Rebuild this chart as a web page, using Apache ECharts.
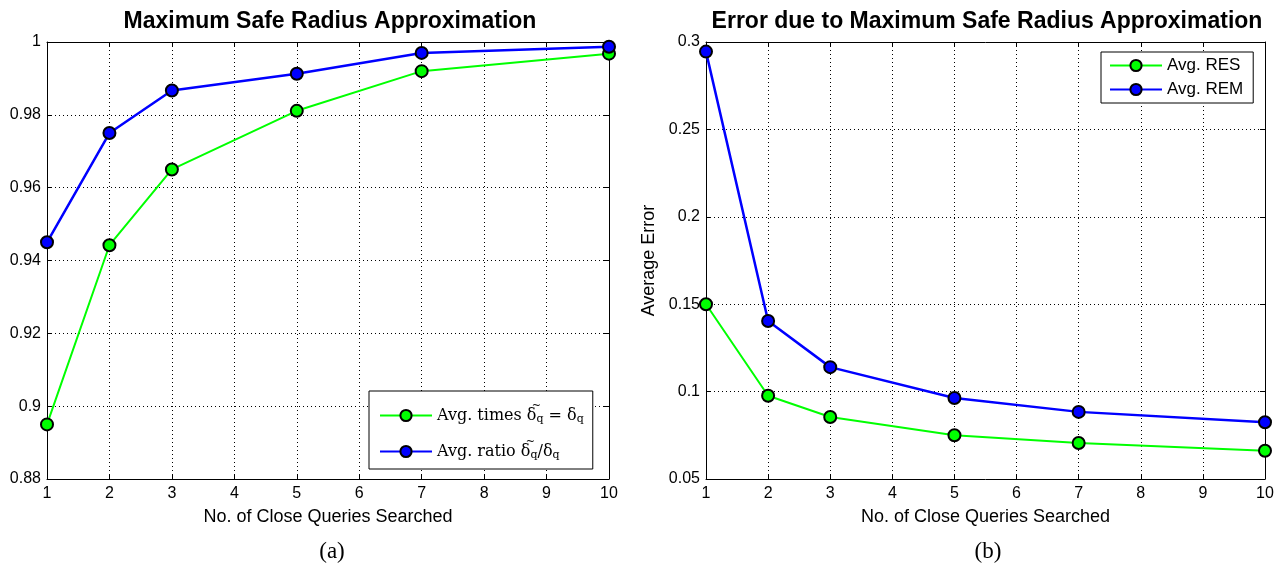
<!DOCTYPE html>
<html>
<head>
<meta charset="utf-8">
<script src="https://cdn.jsdelivr.net/npm/echarts@6/dist/echarts.min.js"></script>
<style>
html,body{margin:0;padding:0;background:#fff;}
#c{width:1281px;height:565px;}
</style>
</head>
<body>
<div id="c"></div>
<script>
// ---- data ----
const queries = [1, 2, 3, 5, 7, 10];
const avgTimes = [0.895, 0.9442, 0.965, 0.9811, 0.992, 0.9968];
const avgRatio = [0.945, 0.975, 0.9867, 0.9913, 0.997, 0.9987];
const avgRES = [0.150, 0.0976, 0.0855, 0.0750, 0.0706, 0.0662];
const avgREM = [0.2945, 0.1404, 0.1140, 0.0963, 0.0884, 0.0825];
const titleA = 'Maximum Safe Radius Approximation';
const titleB = 'Error due to Maximum Safe Radius Approximation';
const xName = 'No. of Close Queries Searched';
const yNameB = 'Average Error';
const legendA = ['Avg. times', 'Avg. ratio'];
const legendB = ['Avg. RES', 'Avg. REM'];

const GREEN = '#00ff00', BLUE = '#0000ff';
const pairs = (xs, ys) => xs.map((x, i) => [x, ys[i]]);
const SANS = 'Liberation Sans';
const SERIF = 'DejaVu Serif';

const chart = echarts.init(document.getElementById('c'), null, {renderer: 'canvas'});

function xAx(gi) {
  return [{
    type: 'value', gridIndex: gi, min: 1, max: 10, interval: 1,
    name: xName, nameLocation: 'middle', nameGap: 29,
    nameTextStyle: {fontFamily: SANS, fontSize: 18, color: '#000'},
    axisLine: {show: true, onZero: false, lineStyle: {color: '#000', width: 1}},
    axisTick: {inside: true, length: 5, lineStyle: {color: '#000'}},
    axisLabel: {fontFamily: SANS, fontSize: 16, color: '#000', margin: 7},
    splitLine: {show: true, lineStyle: {type: [1, 3], color: '#000', width: 1}}
  }, {
    type: 'value', gridIndex: gi, min: 1, max: 10, interval: 1, position: 'top',
    axisLine: {show: true, onZero: false, lineStyle: {color: '#000', width: 1}},
    axisTick: {inside: true, length: 5, lineStyle: {color: '#000'}},
    axisLabel: {show: false}, splitLine: {show: false}
  }];
}
function yAx(gi, min, max, interval, name) {
  return [{
    type: 'value', gridIndex: gi, min: min, max: max, interval: interval,
    name: name || '', nameLocation: 'middle', nameGap: 48, nameRotate: 90,
    nameTextStyle: {fontFamily: SANS, fontSize: 18, color: '#000'},
    axisLine: {show: true, onZero: false, lineStyle: {color: '#000', width: 1}},
    axisTick: {inside: true, length: 5, lineStyle: {color: '#000'}},
    axisLabel: {fontFamily: SANS, fontSize: 16, color: '#000', margin: 6},
    splitLine: {show: true, lineStyle: {type: [1, 3], color: '#000', width: 1}}
  }, {
    type: 'value', gridIndex: gi, min: min, max: max, interval: interval, position: 'right',
    axisLine: {show: true, onZero: false, lineStyle: {color: '#000', width: 1}},
    axisTick: {inside: true, length: 5, lineStyle: {color: '#000'}},
    axisLabel: {show: false}, splitLine: {show: false}
  }];
}
function ser(name, xi, yi, data, color, w) {
  return {
    name: name, type: 'line', xAxisIndex: xi, yAxisIndex: yi,
    data: data, symbol: 'circle', symbolSize: 12,
    lineStyle: {color: color, width: w},
    itemStyle: {color: color, borderColor: '#000', borderWidth: 2},
    emphasis: {disabled: true}, animation: false, z: 3
  };
}

const option = {
  backgroundColor: '#fff',
  animation: false,
  title: [
    {text: titleA, left: 325, top: 5, textAlign: 'center',
     textStyle: {fontFamily: SANS, fontSize: 23, fontWeight: 'bold', color: '#000'}},
    {text: titleB, left: 982, top: 5, textAlign: 'center',
     textStyle: {fontFamily: SANS, fontSize: 23, fontWeight: 'bold', color: '#000'}},
    {text: '(a)', left: 327, top: 535, textAlign: 'center',
     textStyle: {fontFamily: 'Liberation Serif', fontSize: 23, fontWeight: 'normal', color: '#000'}},
    {text: '(b)', left: 983, top: 535, textAlign: 'center',
     textStyle: {fontFamily: 'Liberation Serif', fontSize: 23, fontWeight: 'normal', color: '#000'}}
  ],
  grid: [
    {left: 47, top: 42, width: 562, height: 437},
    {left: 706, top: 42, width: 559, height: 437}
  ],
  xAxis: [...xAx(0), ...xAx(1)],
  yAxis: [...yAx(0, 0.88, 1, 0.02), ...yAx(1, 0.05, 0.3, 0.05, yNameB)],
  legend: [
    {
      data: legendA, orient: 'vertical', left: 369, top: 391,
      padding: [10, 9, 8, 10], itemGap: 12, itemWidth: 52, itemHeight: 14,
      borderColor: '#000', borderWidth: 1, borderRadius: 0, backgroundColor: '#fff',
      selectedMode: false,
      formatter: function (n) {
        return n === legendA[0]
          ? 'Avg. times {d|δ}{t|~}{s|q} = {d|δ}{s|q}'
          : 'Avg. ratio {d|δ}{t|~}{s|q}{d|/}{d|δ}{s|q}';
      },
      textStyle: {
        fontFamily: SERIF, fontSize: 16, color: '#000',
        rich: {
          d: {fontFamily: SERIF, fontSize: 16, color: '#000'},
          t: {fontFamily: SERIF, fontSize: 11, color: '#000', width: 0, align: 'right', padding: [0, 0, 18, 0]},
          s: {fontFamily: SERIF, fontSize: 11, color: '#000', padding: [8, 0, 0, 0]}
        }
      }
    },
    {
      data: legendB, orient: 'vertical', left: 1101, top: 52,
      padding: [5, 10, 5, 8], itemGap: 7, itemWidth: 52, itemHeight: 14,
      borderColor: '#000', borderWidth: 1, borderRadius: 0, backgroundColor: '#fff',
      selectedMode: false,
      textStyle: {fontFamily: SANS, fontSize: 17, color: '#000'}
    }
  ],
  series: [
    ser(legendA[0], 0, 0, pairs(queries, avgTimes), GREEN, 2),
    ser(legendA[1], 0, 0, pairs(queries, avgRatio), BLUE, 2.5),
    ser(legendB[0], 2, 2, pairs(queries, avgRES), GREEN, 2),
    ser(legendB[1], 2, 2, pairs(queries, avgREM), BLUE, 2.5)
  ]
};
chart.setOption(option);
</script>
</body>
</html>
